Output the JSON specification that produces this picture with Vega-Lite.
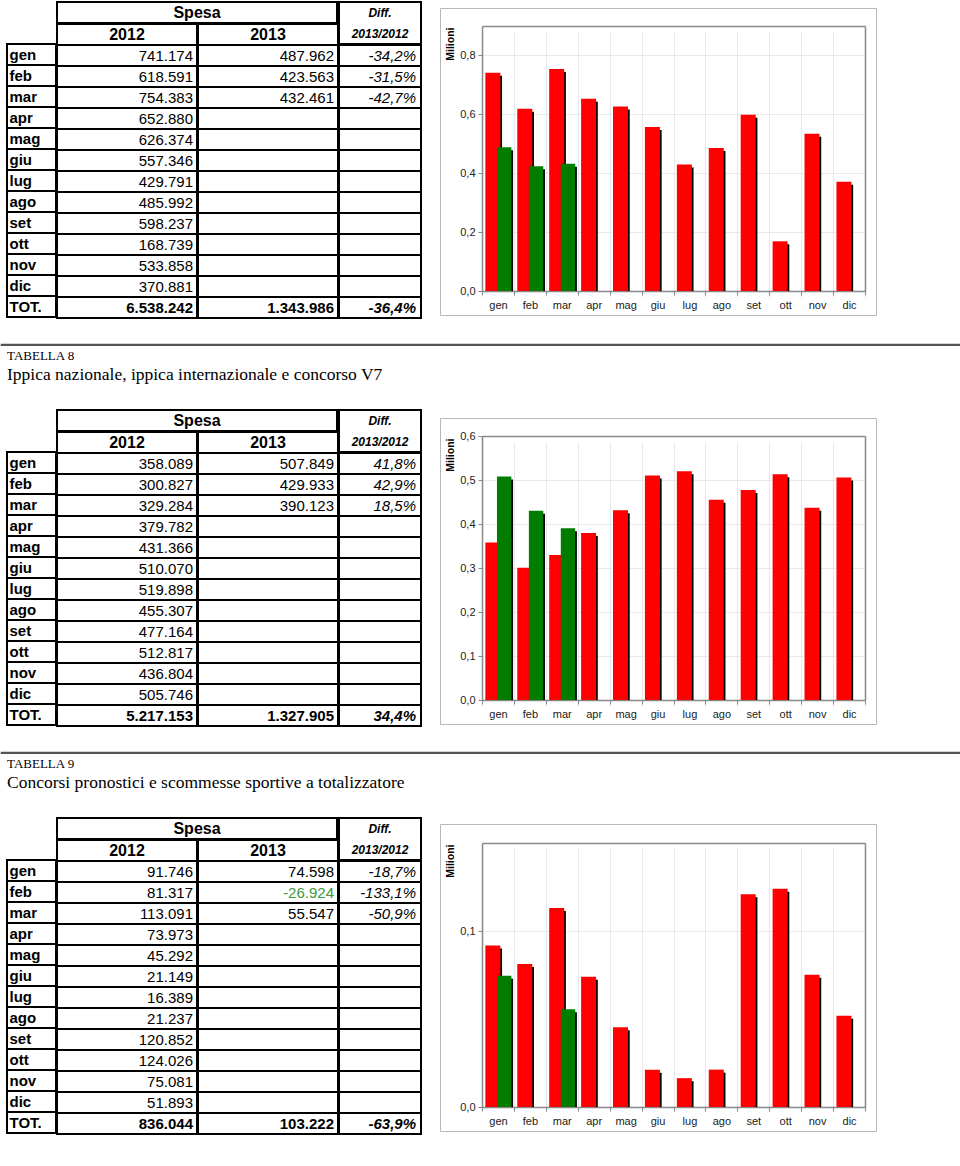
{
  "$schema": "https://vega.github.io/schema/vega-lite/v6.json",
  "padding": {"left": 0, "right": 0, "top": 1, "bottom": 0},
  "spacing": 24,
  "datasets": {
    "t1": [
      {"m": "gen", "a": 741174, "b": 487962, "d": -0.342},
      {"m": "feb", "a": 618591, "b": 423563, "d": -0.315},
      {"m": "mar", "a": 754383, "b": 432461, "d": -0.427},
      {"m": "apr", "a": 652880, "b": null, "d": null},
      {"m": "mag", "a": 626374, "b": null, "d": null},
      {"m": "giu", "a": 557346, "b": null, "d": null},
      {"m": "lug", "a": 429791, "b": null, "d": null},
      {"m": "ago", "a": 485992, "b": null, "d": null},
      {"m": "set", "a": 598237, "b": null, "d": null},
      {"m": "ott", "a": 168739, "b": null, "d": null},
      {"m": "nov", "a": 533858, "b": null, "d": null},
      {"m": "dic", "a": 370881, "b": null, "d": null},
      {"m": "TOT.", "a": 6538242, "b": 1343986, "d": -0.364}
    ],
    "t2": [
      {"m": "gen", "a": 358089, "b": 507849, "d": 0.418},
      {"m": "feb", "a": 300827, "b": 429933, "d": 0.429},
      {"m": "mar", "a": 329284, "b": 390123, "d": 0.185},
      {"m": "apr", "a": 379782, "b": null, "d": null},
      {"m": "mag", "a": 431366, "b": null, "d": null},
      {"m": "giu", "a": 510070, "b": null, "d": null},
      {"m": "lug", "a": 519898, "b": null, "d": null},
      {"m": "ago", "a": 455307, "b": null, "d": null},
      {"m": "set", "a": 477164, "b": null, "d": null},
      {"m": "ott", "a": 512817, "b": null, "d": null},
      {"m": "nov", "a": 436804, "b": null, "d": null},
      {"m": "dic", "a": 505746, "b": null, "d": null},
      {"m": "TOT.", "a": 5217153, "b": 1327905, "d": 0.344}
    ],
    "t3": [
      {"m": "gen", "a": 91746, "b": 74598, "d": -0.187},
      {"m": "feb", "a": 81317, "b": -26924, "d": -1.331},
      {"m": "mar", "a": 113091, "b": 55547, "d": -0.509},
      {"m": "apr", "a": 73973, "b": null, "d": null},
      {"m": "mag", "a": 45292, "b": null, "d": null},
      {"m": "giu", "a": 21149, "b": null, "d": null},
      {"m": "lug", "a": 16389, "b": null, "d": null},
      {"m": "ago", "a": 21237, "b": null, "d": null},
      {"m": "set", "a": 120852, "b": null, "d": null},
      {"m": "ott", "a": 124026, "b": null, "d": null},
      {"m": "nov", "a": 75081, "b": null, "d": null},
      {"m": "dic", "a": 51893, "b": null, "d": null},
      {"m": "TOT.", "a": 836044, "b": 103222, "d": -0.639}
    ]
  },
  "vconcat": [
    {
      "hconcat": [
        {"width": 5, "height": 1, "data": {"values": []}, "mark": "point", "encoding": {}},
        {
          "hconcat": [
            {
              "hconcat": [
                {"vconcat": [
                  {"width": 49, "height": 42, "data": {"values": []}, "mark": "point", "encoding": {}},
                  {"width": 49, "height": 273, "view": {"stroke": "black", "strokeWidth": 2}, "data": {"name": "t1"},
                   "encoding": {"y": {"field": "m", "type": "ordinal", "axis": null, "scale": {"domain": ["gen","feb","mar","apr","mag","giu","lug","ago","set","ott","nov","dic","TOT."], "paddingInner": 0, "paddingOuter": 0}}},
                   "layer": [
                     {"mark": {"type": "rect", "filled": false, "color": "black", "strokeWidth": 2, "clip": true}},
                     {"mark": {"type": "text", "align": "left", "dx": -22, "fontSize": 15, "fontWeight": "bold", "color": "black"}, "encoding": {"text": {"field": "m"}}}
                   ]}
                ], "spacing": -2},
                {"vconcat": [
                  {"width": 280, "height": 21, "view": {"stroke": "black", "strokeWidth": 2}, "data": {"values": [{"t": "Spesa"}]}, "mark": {"type": "text", "fontSize": 16, "fontWeight": "bold", "color": "black"}, "encoding": {"text": {"field": "t"}}},
                  {"hconcat": [
                    {"width": 140, "height": 294, "view": {"stroke": "black", "strokeWidth": 2}, "data": {"name": "t1"},
                     "encoding": {"y": {"field": "m", "type": "ordinal", "axis": null, "scale": {"domain": ["Y","gen","feb","mar","apr","mag","giu","lug","ago","set","ott","nov","dic","TOT."], "paddingInner": 0, "paddingOuter": 0}}},
                     "layer": [
                       {"mark": {"type": "rect", "filled": false, "color": "black", "strokeWidth": 2, "clip": true}},
                       {"transform": [{"filter": "datum.m !== 'TOT.'"}], "mark": {"type": "text", "align": "right", "dx": 66, "fontSize": 15, "color": "black"}, "encoding": {"text": {"field": "a", "type": "quantitative", "format": ",.0f"}}},
                       {"transform": [{"filter": "datum.m === 'TOT.'"}], "mark": {"type": "text", "align": "right", "dx": 66, "fontSize": 15, "fontWeight": "bold", "color": "black"}, "encoding": {"text": {"field": "a", "type": "quantitative", "format": ",.0f"}}},
                       {"data": {"values": [{"m": "Y", "t": "2012"}]}, "mark": {"type": "text", "fontSize": 16, "fontWeight": "bold", "color": "black"}, "encoding": {"text": {"field": "t"}}}
                     ]},
                    {"width": 140, "height": 294, "view": {"stroke": "black", "strokeWidth": 2}, "data": {"name": "t1"},
                     "encoding": {"y": {"field": "m", "type": "ordinal", "axis": null, "scale": {"domain": ["Y","gen","feb","mar","apr","mag","giu","lug","ago","set","ott","nov","dic","TOT."], "paddingInner": 0, "paddingOuter": 0}}},
                     "layer": [
                       {"mark": {"type": "rect", "filled": false, "color": "black", "strokeWidth": 2, "clip": true}},
                       {"transform": [{"filter": "datum.m !== 'TOT.' && isValid(datum.b)"}], "mark": {"type": "text", "align": "right", "dx": 66, "fontSize": 15}, "encoding": {"text": {"field": "b", "type": "quantitative", "format": ",.0f"}, "color": {"condition": {"test": "datum.b < 0", "value": "#3c9a3c"}, "value": "black"}}},
                       {"transform": [{"filter": "datum.m === 'TOT.'"}], "mark": {"type": "text", "align": "right", "dx": 66, "fontSize": 15, "fontWeight": "bold", "color": "black"}, "encoding": {"text": {"field": "b", "type": "quantitative", "format": ",.0f"}}},
                       {"data": {"values": [{"m": "Y", "t": "2013"}]}, "mark": {"type": "text", "fontSize": 16, "fontWeight": "bold", "color": "black"}, "encoding": {"text": {"field": "t"}}}
                     ]}
                  ], "spacing": -4}
                ], "spacing": -4},
                {"vconcat": [
                  {"width": 82, "height": 42, "view": {"stroke": "black", "strokeWidth": 2}, "data": {"values": [{"p": "Diff.", "q": "2013/2012"}]},
                   "layer": [
                     {"mark": {"type": "text", "dy": -10, "fontSize": 12, "fontWeight": "bold", "fontStyle": "italic", "color": "black"}, "encoding": {"text": {"field": "p"}}},
                     {"mark": {"type": "text", "dy": 11, "fontSize": 12, "fontWeight": "bold", "fontStyle": "italic", "color": "black"}, "encoding": {"text": {"field": "q"}}}
                   ]},
                  {"width": 82, "height": 273, "view": {"stroke": "black", "strokeWidth": 2}, "data": {"name": "t1"},
                   "encoding": {"y": {"field": "m", "type": "ordinal", "axis": null, "scale": {"domain": ["gen","feb","mar","apr","mag","giu","lug","ago","set","ott","nov","dic","TOT."], "paddingInner": 0, "paddingOuter": 0}}},
                   "layer": [
                     {"mark": {"type": "rect", "filled": false, "color": "black", "strokeWidth": 2, "clip": true}},
                     {"transform": [{"filter": "datum.m !== 'TOT.' && isValid(datum.d)"}], "mark": {"type": "text", "align": "right", "dx": 36, "fontSize": 15, "fontStyle": "italic", "color": "black"}, "encoding": {"text": {"field": "d", "type": "quantitative", "format": ".1%"}}},
                     {"transform": [{"filter": "datum.m === 'TOT.'"}], "mark": {"type": "text", "align": "right", "dx": 36, "fontSize": 15, "fontStyle": "italic", "fontWeight": "bold", "color": "black"}, "encoding": {"text": {"field": "d", "type": "quantitative", "format": ".1%"}}}
                   ]}
                ], "spacing": -4}
              ], "spacing": -4
            },
            {"vconcat": [
              {"width": 1, "height": 5, "data": {"values": []}, "mark": "point", "encoding": {}},
              {
                "width": 436, "height": 307,
                "view": {"stroke": "#b8b8b8", "strokeWidth": 1},
                "data": {"name": "t1"},
                "transform": [{"filter": "datum.m !== 'TOT.'"}, {"fold": ["a", "b"], "as": ["yr", "v"]}, {"filter": "datum.v > 0"}],
                "layer": [
                  {"transform": [{"filter": "datum.yr === 'a'"}], "mark": {"type": "bar", "width": 15, "xOffset": -3.4, "yOffset": 3, "color": "black"},
                   "encoding": {
                     "x": {"field": "m", "type": "ordinal", "sort": null, "scale": {"domain": ["gen","feb","mar","apr","mag","giu","lug","ago","set","ott","nov","dic"], "range": [42, 425], "paddingInner": 0, "paddingOuter": 0}, "axis": null},
                     "y": {"field": "v", "type": "quantitative", "stack": null, "scale": {"domain": [0, 900000], "range": [283, 18], "nice": false}, "axis": null},
                     "y2": {"datum": 0}}},
                  {"transform": [{"filter": "datum.yr === 'a'"}], "mark": {"type": "bar", "width": 15, "xOffset": -5.1, "color": "#ff0000"},
                   "encoding": {
                     "x": {"field": "m", "type": "ordinal", "sort": null, "scale": {"domain": ["gen","feb","mar","apr","mag","giu","lug","ago","set","ott","nov","dic"], "range": [42, 425], "paddingInner": 0, "paddingOuter": 0},
                           "axis": {"orient": "bottom", "offset": -24, "tickBand": "extent", "domainColor": "#888", "domainWidth": 1.5, "tickColor": "#888", "tickSize": 4, "grid": true, "gridColor": "#e8e8e8", "labelAngle": 0, "labelFontSize": 11, "labelColor": "#222", "labelPadding": 4, "title": null}},
                     "y": {"field": "v", "type": "quantitative", "stack": null, "scale": {"domain": [0, 900000], "range": [283, 18], "nice": false},
                           "axis": {"orient": "left", "offset": -42, "values": [0, 200000, 400000, 600000, 800000], "labelExpr": "replace(format(datum.value/1000000, '.1f'), '.', ',')", "domainColor": "#888", "domainWidth": 1.5, "tickColor": "#888", "tickSize": 4, "grid": true, "gridColor": "#e8e8e8", "labelFontSize": 11, "labelColor": "#222", "labelPadding": 3, "title": "Milioni", "titleFontSize": 10.5, "titleFontWeight": "bold", "titleColor": "black", "titleAngle": 270, "titleAlign": "right", "titleBaseline": "middle", "titleX": -32, "titleY": 19}}}},
                  {"transform": [{"filter": "datum.yr === 'b'"}], "mark": {"type": "bar", "width": 14.4, "xOffset": 7.9, "yOffset": 3, "color": "black"},
                   "encoding": {
                     "x": {"field": "m", "type": "ordinal", "sort": null, "scale": {"domain": ["gen","feb","mar","apr","mag","giu","lug","ago","set","ott","nov","dic"], "range": [42, 425], "paddingInner": 0, "paddingOuter": 0}, "axis": null},
                     "y": {"field": "v", "type": "quantitative", "stack": null, "scale": {"domain": [0, 900000], "range": [283, 18], "nice": false}, "axis": null},
                     "y2": {"datum": 0}}},
                  {"transform": [{"filter": "datum.yr === 'b'"}], "mark": {"type": "bar", "width": 14.4, "xOffset": 6.2, "color": "#007d00"},
                   "encoding": {
                     "x": {"field": "m", "type": "ordinal", "sort": null, "scale": {"domain": ["gen","feb","mar","apr","mag","giu","lug","ago","set","ott","nov","dic"], "range": [42, 425], "paddingInner": 0, "paddingOuter": 0},
                           "axis": {"orient": "top", "offset": -18, "labels": false, "ticks": false, "grid": false, "domainColor": "#888", "domainWidth": 1.5, "title": null}},
                     "y": {"field": "v", "type": "quantitative", "stack": null, "scale": {"domain": [0, 900000], "range": [283, 18], "nice": false},
                           "axis": {"orient": "right", "offset": -11, "labels": false, "ticks": false, "grid": false, "domainColor": "#888", "domainWidth": 1.5, "title": null}}}}
                ],
                "resolve": {"axis": {"x": "independent", "y": "independent"}}
              }
            ], "spacing": 0}
          ], "spacing": 17
        }
      ], "spacing": 0
    },
    {
      "vconcat": [
        {"width": 960, "height": 1, "view": {"stroke": "#555", "strokeWidth": 1.2}, "data": {"values": []}, "mark": "point", "encoding": {}},
        {
          "title": {"text": "TABELLA 8", "subtitle": "Ippica nazionale, ippica internazionale e concorso V7", "anchor": "start", "dx": 6, "offset": 26},
          "hconcat": [
            {"width": 5, "height": 1, "data": {"values": []}, "mark": "point", "encoding": {}},
            {
              "hconcat": [
                {
                  "hconcat": [
                    {"vconcat": [
                      {"width": 49, "height": 42, "data": {"values": []}, "mark": "point", "encoding": {}},
                      {"width": 49, "height": 273, "view": {"stroke": "black", "strokeWidth": 2}, "data": {"name": "t2"},
                       "encoding": {"y": {"field": "m", "type": "ordinal", "axis": null, "scale": {"domain": ["gen","feb","mar","apr","mag","giu","lug","ago","set","ott","nov","dic","TOT."], "paddingInner": 0, "paddingOuter": 0}}},
                       "layer": [
                         {"mark": {"type": "rect", "filled": false, "color": "black", "strokeWidth": 2, "clip": true}},
                         {"mark": {"type": "text", "align": "left", "dx": -22, "fontSize": 15, "fontWeight": "bold", "color": "black"}, "encoding": {"text": {"field": "m"}}}
                       ]}
                    ], "spacing": -2},
                    {"vconcat": [
                      {"width": 280, "height": 21, "view": {"stroke": "black", "strokeWidth": 2}, "data": {"values": [{"t": "Spesa"}]}, "mark": {"type": "text", "fontSize": 16, "fontWeight": "bold", "color": "black"}, "encoding": {"text": {"field": "t"}}},
                      {"hconcat": [
                        {"width": 140, "height": 294, "view": {"stroke": "black", "strokeWidth": 2}, "data": {"name": "t2"},
                         "encoding": {"y": {"field": "m", "type": "ordinal", "axis": null, "scale": {"domain": ["Y","gen","feb","mar","apr","mag","giu","lug","ago","set","ott","nov","dic","TOT."], "paddingInner": 0, "paddingOuter": 0}}},
                         "layer": [
                           {"mark": {"type": "rect", "filled": false, "color": "black", "strokeWidth": 2, "clip": true}},
                           {"transform": [{"filter": "datum.m !== 'TOT.'"}], "mark": {"type": "text", "align": "right", "dx": 66, "fontSize": 15, "color": "black"}, "encoding": {"text": {"field": "a", "type": "quantitative", "format": ",.0f"}}},
                           {"transform": [{"filter": "datum.m === 'TOT.'"}], "mark": {"type": "text", "align": "right", "dx": 66, "fontSize": 15, "fontWeight": "bold", "color": "black"}, "encoding": {"text": {"field": "a", "type": "quantitative", "format": ",.0f"}}},
                           {"data": {"values": [{"m": "Y", "t": "2012"}]}, "mark": {"type": "text", "fontSize": 16, "fontWeight": "bold", "color": "black"}, "encoding": {"text": {"field": "t"}}}
                         ]},
                        {"width": 140, "height": 294, "view": {"stroke": "black", "strokeWidth": 2}, "data": {"name": "t2"},
                         "encoding": {"y": {"field": "m", "type": "ordinal", "axis": null, "scale": {"domain": ["Y","gen","feb","mar","apr","mag","giu","lug","ago","set","ott","nov","dic","TOT."], "paddingInner": 0, "paddingOuter": 0}}},
                         "layer": [
                           {"mark": {"type": "rect", "filled": false, "color": "black", "strokeWidth": 2, "clip": true}},
                           {"transform": [{"filter": "datum.m !== 'TOT.' && isValid(datum.b)"}], "mark": {"type": "text", "align": "right", "dx": 66, "fontSize": 15}, "encoding": {"text": {"field": "b", "type": "quantitative", "format": ",.0f"}, "color": {"condition": {"test": "datum.b < 0", "value": "#3c9a3c"}, "value": "black"}}},
                           {"transform": [{"filter": "datum.m === 'TOT.'"}], "mark": {"type": "text", "align": "right", "dx": 66, "fontSize": 15, "fontWeight": "bold", "color": "black"}, "encoding": {"text": {"field": "b", "type": "quantitative", "format": ",.0f"}}},
                           {"data": {"values": [{"m": "Y", "t": "2013"}]}, "mark": {"type": "text", "fontSize": 16, "fontWeight": "bold", "color": "black"}, "encoding": {"text": {"field": "t"}}}
                         ]}
                      ], "spacing": -4}
                    ], "spacing": -4},
                    {"vconcat": [
                      {"width": 82, "height": 42, "view": {"stroke": "black", "strokeWidth": 2}, "data": {"values": [{"p": "Diff.", "q": "2013/2012"}]},
                       "layer": [
                         {"mark": {"type": "text", "dy": -10, "fontSize": 12, "fontWeight": "bold", "fontStyle": "italic", "color": "black"}, "encoding": {"text": {"field": "p"}}},
                         {"mark": {"type": "text", "dy": 11, "fontSize": 12, "fontWeight": "bold", "fontStyle": "italic", "color": "black"}, "encoding": {"text": {"field": "q"}}}
                       ]},
                      {"width": 82, "height": 273, "view": {"stroke": "black", "strokeWidth": 2}, "data": {"name": "t2"},
                       "encoding": {"y": {"field": "m", "type": "ordinal", "axis": null, "scale": {"domain": ["gen","feb","mar","apr","mag","giu","lug","ago","set","ott","nov","dic","TOT."], "paddingInner": 0, "paddingOuter": 0}}},
                       "layer": [
                         {"mark": {"type": "rect", "filled": false, "color": "black", "strokeWidth": 2, "clip": true}},
                         {"transform": [{"filter": "datum.m !== 'TOT.' && isValid(datum.d)"}], "mark": {"type": "text", "align": "right", "dx": 36, "fontSize": 15, "fontStyle": "italic", "color": "black"}, "encoding": {"text": {"field": "d", "type": "quantitative", "format": ".1%"}}},
                         {"transform": [{"filter": "datum.m === 'TOT.'"}], "mark": {"type": "text", "align": "right", "dx": 36, "fontSize": 15, "fontStyle": "italic", "fontWeight": "bold", "color": "black"}, "encoding": {"text": {"field": "d", "type": "quantitative", "format": ".1%"}}}
                       ]}
                    ], "spacing": -4}
                  ], "spacing": -4
                },
                {"vconcat": [
                  {"width": 1, "height": 7, "data": {"values": []}, "mark": "point", "encoding": {}},
                  {
                    "width": 436, "height": 306,
                    "view": {"stroke": "#b8b8b8", "strokeWidth": 1},
                    "data": {"name": "t2"},
                    "transform": [{"filter": "datum.m !== 'TOT.'"}, {"fold": ["a", "b"], "as": ["yr", "v"]}, {"filter": "datum.v > 0"}],
                    "layer": [
                      {"transform": [{"filter": "datum.yr === 'a'"}], "mark": {"type": "bar", "width": 15, "xOffset": -3.4, "yOffset": 3, "color": "black"},
                       "encoding": {
                         "x": {"field": "m", "type": "ordinal", "sort": null, "scale": {"domain": ["gen","feb","mar","apr","mag","giu","lug","ago","set","ott","nov","dic"], "range": [42, 425], "paddingInner": 0, "paddingOuter": 0}, "axis": null},
                         "y": {"field": "v", "type": "quantitative", "stack": null, "scale": {"domain": [0, 600000], "range": [282, 18], "nice": false}, "axis": null},
                         "y2": {"datum": 0}}},
                      {"transform": [{"filter": "datum.yr === 'a'"}], "mark": {"type": "bar", "width": 15, "xOffset": -5.1, "color": "#ff0000"},
                       "encoding": {
                         "x": {"field": "m", "type": "ordinal", "sort": null, "scale": {"domain": ["gen","feb","mar","apr","mag","giu","lug","ago","set","ott","nov","dic"], "range": [42, 425], "paddingInner": 0, "paddingOuter": 0},
                               "axis": {"orient": "bottom", "offset": -24, "tickBand": "extent", "domainColor": "#888", "domainWidth": 1.5, "tickColor": "#888", "tickSize": 4, "grid": true, "gridColor": "#e8e8e8", "labelAngle": 0, "labelFontSize": 11, "labelColor": "#222", "labelPadding": 4, "title": null}},
                         "y": {"field": "v", "type": "quantitative", "stack": null, "scale": {"domain": [0, 600000], "range": [282, 18], "nice": false},
                               "axis": {"orient": "left", "offset": -42, "values": [0, 100000, 200000, 300000, 400000, 500000, 600000], "labelExpr": "replace(format(datum.value/1000000, '.1f'), '.', ',')", "domainColor": "#888", "domainWidth": 1.5, "tickColor": "#888", "tickSize": 4, "grid": true, "gridColor": "#e8e8e8", "labelFontSize": 11, "labelColor": "#222", "labelPadding": 3, "title": "Milioni", "titleFontSize": 10.5, "titleFontWeight": "bold", "titleColor": "black", "titleAngle": 270, "titleAlign": "right", "titleBaseline": "middle", "titleX": -32, "titleY": 20}}}},
                      {"transform": [{"filter": "datum.yr === 'b'"}], "mark": {"type": "bar", "width": 14.4, "xOffset": 7.9, "yOffset": 3, "color": "black"},
                       "encoding": {
                         "x": {"field": "m", "type": "ordinal", "sort": null, "scale": {"domain": ["gen","feb","mar","apr","mag","giu","lug","ago","set","ott","nov","dic"], "range": [42, 425], "paddingInner": 0, "paddingOuter": 0}, "axis": null},
                         "y": {"field": "v", "type": "quantitative", "stack": null, "scale": {"domain": [0, 600000], "range": [282, 18], "nice": false}, "axis": null},
                         "y2": {"datum": 0}}},
                      {"transform": [{"filter": "datum.yr === 'b'"}], "mark": {"type": "bar", "width": 14.4, "xOffset": 6.2, "color": "#007d00"},
                       "encoding": {
                         "x": {"field": "m", "type": "ordinal", "sort": null, "scale": {"domain": ["gen","feb","mar","apr","mag","giu","lug","ago","set","ott","nov","dic"], "range": [42, 425], "paddingInner": 0, "paddingOuter": 0},
                               "axis": {"orient": "top", "offset": -18, "labels": false, "ticks": false, "grid": false, "domainColor": "#888", "domainWidth": 1.5, "title": null}},
                         "y": {"field": "v", "type": "quantitative", "stack": null, "scale": {"domain": [0, 600000], "range": [282, 18], "nice": false},
                               "axis": {"orient": "right", "offset": -11, "labels": false, "ticks": false, "grid": false, "domainColor": "#888", "domainWidth": 1.5, "title": null}}}}
                    ],
                    "resolve": {"axis": {"x": "independent", "y": "independent"}}
                  }
                ], "spacing": 0}
              ], "spacing": 17
            }
          ], "spacing": 0
        }
      ], "spacing": 3
    },
    {
      "vconcat": [
        {"width": 960, "height": 1, "view": {"stroke": "#555", "strokeWidth": 1.2}, "data": {"values": []}, "mark": "point", "encoding": {}},
        {
          "title": {"text": "TABELLA 9", "subtitle": "Concorsi pronostici e scommesse sportive a totalizzatore", "anchor": "start", "dx": 6, "offset": 26},
          "hconcat": [
            {"width": 5, "height": 1, "data": {"values": []}, "mark": "point", "encoding": {}},
            {
              "hconcat": [
                {
                  "hconcat": [
                    {"vconcat": [
                      {"width": 49, "height": 42, "data": {"values": []}, "mark": "point", "encoding": {}},
                      {"width": 49, "height": 273, "view": {"stroke": "black", "strokeWidth": 2}, "data": {"name": "t3"},
                       "encoding": {"y": {"field": "m", "type": "ordinal", "axis": null, "scale": {"domain": ["gen","feb","mar","apr","mag","giu","lug","ago","set","ott","nov","dic","TOT."], "paddingInner": 0, "paddingOuter": 0}}},
                       "layer": [
                         {"mark": {"type": "rect", "filled": false, "color": "black", "strokeWidth": 2, "clip": true}},
                         {"mark": {"type": "text", "align": "left", "dx": -22, "fontSize": 15, "fontWeight": "bold", "color": "black"}, "encoding": {"text": {"field": "m"}}}
                       ]}
                    ], "spacing": -2},
                    {"vconcat": [
                      {"width": 280, "height": 21, "view": {"stroke": "black", "strokeWidth": 2}, "data": {"values": [{"t": "Spesa"}]}, "mark": {"type": "text", "fontSize": 16, "fontWeight": "bold", "color": "black"}, "encoding": {"text": {"field": "t"}}},
                      {"hconcat": [
                        {"width": 140, "height": 294, "view": {"stroke": "black", "strokeWidth": 2}, "data": {"name": "t3"},
                         "encoding": {"y": {"field": "m", "type": "ordinal", "axis": null, "scale": {"domain": ["Y","gen","feb","mar","apr","mag","giu","lug","ago","set","ott","nov","dic","TOT."], "paddingInner": 0, "paddingOuter": 0}}},
                         "layer": [
                           {"mark": {"type": "rect", "filled": false, "color": "black", "strokeWidth": 2, "clip": true}},
                           {"transform": [{"filter": "datum.m !== 'TOT.'"}], "mark": {"type": "text", "align": "right", "dx": 66, "fontSize": 15, "color": "black"}, "encoding": {"text": {"field": "a", "type": "quantitative", "format": ",.0f"}}},
                           {"transform": [{"filter": "datum.m === 'TOT.'"}], "mark": {"type": "text", "align": "right", "dx": 66, "fontSize": 15, "fontWeight": "bold", "color": "black"}, "encoding": {"text": {"field": "a", "type": "quantitative", "format": ",.0f"}}},
                           {"data": {"values": [{"m": "Y", "t": "2012"}]}, "mark": {"type": "text", "fontSize": 16, "fontWeight": "bold", "color": "black"}, "encoding": {"text": {"field": "t"}}}
                         ]},
                        {"width": 140, "height": 294, "view": {"stroke": "black", "strokeWidth": 2}, "data": {"name": "t3"},
                         "encoding": {"y": {"field": "m", "type": "ordinal", "axis": null, "scale": {"domain": ["Y","gen","feb","mar","apr","mag","giu","lug","ago","set","ott","nov","dic","TOT."], "paddingInner": 0, "paddingOuter": 0}}},
                         "layer": [
                           {"mark": {"type": "rect", "filled": false, "color": "black", "strokeWidth": 2, "clip": true}},
                           {"transform": [{"filter": "datum.m !== 'TOT.' && isValid(datum.b)"}], "mark": {"type": "text", "align": "right", "dx": 66, "fontSize": 15}, "encoding": {"text": {"field": "b", "type": "quantitative", "format": ",.0f"}, "color": {"condition": {"test": "datum.b < 0", "value": "#3c9a3c"}, "value": "black"}}},
                           {"transform": [{"filter": "datum.m === 'TOT.'"}], "mark": {"type": "text", "align": "right", "dx": 66, "fontSize": 15, "fontWeight": "bold", "color": "black"}, "encoding": {"text": {"field": "b", "type": "quantitative", "format": ",.0f"}}},
                           {"data": {"values": [{"m": "Y", "t": "2013"}]}, "mark": {"type": "text", "fontSize": 16, "fontWeight": "bold", "color": "black"}, "encoding": {"text": {"field": "t"}}}
                         ]}
                      ], "spacing": -4}
                    ], "spacing": -4},
                    {"vconcat": [
                      {"width": 82, "height": 42, "view": {"stroke": "black", "strokeWidth": 2}, "data": {"values": [{"p": "Diff.", "q": "2013/2012"}]},
                       "layer": [
                         {"mark": {"type": "text", "dy": -10, "fontSize": 12, "fontWeight": "bold", "fontStyle": "italic", "color": "black"}, "encoding": {"text": {"field": "p"}}},
                         {"mark": {"type": "text", "dy": 11, "fontSize": 12, "fontWeight": "bold", "fontStyle": "italic", "color": "black"}, "encoding": {"text": {"field": "q"}}}
                       ]},
                      {"width": 82, "height": 273, "view": {"stroke": "black", "strokeWidth": 2}, "data": {"name": "t3"},
                       "encoding": {"y": {"field": "m", "type": "ordinal", "axis": null, "scale": {"domain": ["gen","feb","mar","apr","mag","giu","lug","ago","set","ott","nov","dic","TOT."], "paddingInner": 0, "paddingOuter": 0}}},
                       "layer": [
                         {"mark": {"type": "rect", "filled": false, "color": "black", "strokeWidth": 2, "clip": true}},
                         {"transform": [{"filter": "datum.m !== 'TOT.' && isValid(datum.d)"}], "mark": {"type": "text", "align": "right", "dx": 36, "fontSize": 15, "fontStyle": "italic", "color": "black"}, "encoding": {"text": {"field": "d", "type": "quantitative", "format": ".1%"}}},
                         {"transform": [{"filter": "datum.m === 'TOT.'"}], "mark": {"type": "text", "align": "right", "dx": 36, "fontSize": 15, "fontStyle": "italic", "fontWeight": "bold", "color": "black"}, "encoding": {"text": {"field": "d", "type": "quantitative", "format": ".1%"}}}
                       ]}
                    ], "spacing": -4}
                  ], "spacing": -4
                },
                {"vconcat": [
                  {"width": 1, "height": 5, "data": {"values": []}, "mark": "point", "encoding": {}},
                  {
                    "width": 436, "height": 307,
                    "view": {"stroke": "#b8b8b8", "strokeWidth": 1},
                    "data": {"name": "t3"},
                    "transform": [{"filter": "datum.m !== 'TOT.'"}, {"fold": ["a", "b"], "as": ["yr", "v"]}, {"filter": "datum.v > 0"}],
                    "layer": [
                      {"transform": [{"filter": "datum.yr === 'a'"}], "mark": {"type": "bar", "width": 15, "xOffset": -3.4, "yOffset": 3, "color": "black"},
                       "encoding": {
                         "x": {"field": "m", "type": "ordinal", "sort": null, "scale": {"domain": ["gen","feb","mar","apr","mag","giu","lug","ago","set","ott","nov","dic"], "range": [42, 425], "paddingInner": 0, "paddingOuter": 0}, "axis": null},
                         "y": {"field": "v", "type": "quantitative", "stack": null, "scale": {"domain": [0, 150000], "range": [283, 19], "nice": false}, "axis": null},
                         "y2": {"datum": 0}}},
                      {"transform": [{"filter": "datum.yr === 'a'"}], "mark": {"type": "bar", "width": 15, "xOffset": -5.1, "color": "#ff0000"},
                       "encoding": {
                         "x": {"field": "m", "type": "ordinal", "sort": null, "scale": {"domain": ["gen","feb","mar","apr","mag","giu","lug","ago","set","ott","nov","dic"], "range": [42, 425], "paddingInner": 0, "paddingOuter": 0},
                               "axis": {"orient": "bottom", "offset": -24, "tickBand": "extent", "domainColor": "#888", "domainWidth": 1.5, "tickColor": "#888", "tickSize": 4, "grid": true, "gridColor": "#e8e8e8", "labelAngle": 0, "labelFontSize": 11, "labelColor": "#222", "labelPadding": 4, "title": null}},
                         "y": {"field": "v", "type": "quantitative", "stack": null, "scale": {"domain": [0, 150000], "range": [283, 19], "nice": false},
                               "axis": {"orient": "left", "offset": -42, "values": [0, 100000], "labelExpr": "replace(format(datum.value/1000000, '.1f'), '.', ',')", "domainColor": "#888", "domainWidth": 1.5, "tickColor": "#888", "tickSize": 4, "grid": true, "gridColor": "#e8e8e8", "labelFontSize": 11, "labelColor": "#222", "labelPadding": 3, "title": "Milioni", "titleFontSize": 10.5, "titleFontWeight": "bold", "titleColor": "black", "titleAngle": 270, "titleAlign": "right", "titleBaseline": "middle", "titleX": -32, "titleY": 20}}}},
                      {"transform": [{"filter": "datum.yr === 'b'"}], "mark": {"type": "bar", "width": 14.4, "xOffset": 7.9, "yOffset": 3, "color": "black"},
                       "encoding": {
                         "x": {"field": "m", "type": "ordinal", "sort": null, "scale": {"domain": ["gen","feb","mar","apr","mag","giu","lug","ago","set","ott","nov","dic"], "range": [42, 425], "paddingInner": 0, "paddingOuter": 0}, "axis": null},
                         "y": {"field": "v", "type": "quantitative", "stack": null, "scale": {"domain": [0, 150000], "range": [283, 19], "nice": false}, "axis": null},
                         "y2": {"datum": 0}}},
                      {"transform": [{"filter": "datum.yr === 'b'"}], "mark": {"type": "bar", "width": 14.4, "xOffset": 6.2, "color": "#007d00"},
                       "encoding": {
                         "x": {"field": "m", "type": "ordinal", "sort": null, "scale": {"domain": ["gen","feb","mar","apr","mag","giu","lug","ago","set","ott","nov","dic"], "range": [42, 425], "paddingInner": 0, "paddingOuter": 0},
                               "axis": {"orient": "top", "offset": -19, "labels": false, "ticks": false, "grid": false, "domainColor": "#888", "domainWidth": 1.5, "title": null}},
                         "y": {"field": "v", "type": "quantitative", "stack": null, "scale": {"domain": [0, 150000], "range": [283, 19], "nice": false},
                               "axis": {"orient": "right", "offset": -11, "labels": false, "ticks": false, "grid": false, "domainColor": "#888", "domainWidth": 1.5, "title": null}}}}
                    ],
                    "resolve": {"axis": {"x": "independent", "y": "independent"}}
                  }
                ], "spacing": 0}
              ], "spacing": 17
            }
          ], "spacing": 0
        }
      ], "spacing": 3
    }
  ],
  "config": {
    "view": {"stroke": null},
    "locale": {"number": {"decimal": ",", "thousands": ".", "grouping": [3], "currency": ["", " €"], "minus": "-", "percent": "%"}},
    "text": {"font": "Liberation Sans"},
    "axis": {"labelFont": "Liberation Sans", "titleFont": "Liberation Sans"},
    "title": {"font": "Liberation Serif", "fontSize": 13, "fontWeight": "normal", "color": "black", "subtitleFont": "Liberation Serif", "subtitleFontSize": 17.5, "subtitleColor": "black", "subtitlePadding": 3}
  }
}
